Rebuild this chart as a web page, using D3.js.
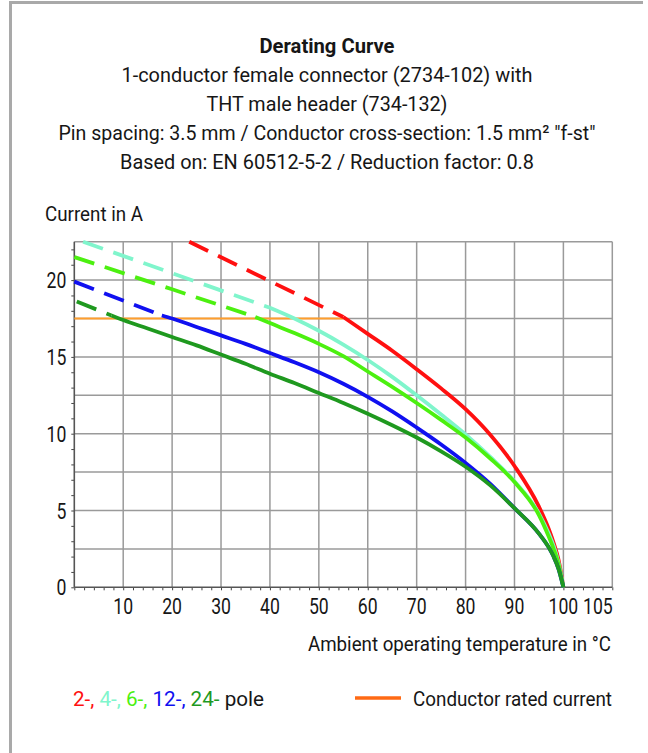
<!DOCTYPE html>
<html><head><meta charset="utf-8">
<script src="https://cdn.jsdelivr.net/npm/d3@7"></script>
<style>
body{margin:0;background:#fff;}
svg text{font-family:Roboto,"Liberation Sans",sans-serif;fill:#161616;}
</style></head><body>
<svg id="c" width="648" height="753"></svg>
<script>
// ---------- data ----------
const titleLines = [
  "Derating Curve",
  "1-conductor female connector (2734-102) with",
  "THT male header (734-132)",
  "Pin spacing: 3.5 mm / Conductor cross-section: 1.5 mm² \"f-st\"",
  "Based on: EN 60512-5-2 / Reduction factor: 0.8"
];
const titleWidths = [135, 411, 241, 537, 414];
const yAxisTitle = "Current in A";
const xAxisTitle = "Ambient operating temperature in °C";
const xTickValues = [10,20,30,40,50,60,70,80,90,100,105];
const yTickValues = [0,5,10,15,20];

const seriesLabels = ["2-,", "4-,", "6-,", "12-,", "24-"];
const seriesColors = ["#ff1010", "#80f5cc", "#4cf010", "#1010f0", "#1f991f"];

// 2-pole
const pole2DashT  = [23.5, 55];
const pole2DashA  = [22.5, 17.6];
const pole2SolidT = [55, 60, 65, 70, 75, 80, 85, 90, 95, 97, 98, 99, 100];
const pole2SolidA = [17.6, 16.5, 15.4, 14.2, 12.95, 11.6, 9.95, 7.9, 5.25, 3.8, 2.9, 1.8, 0];
// 4-pole
const pole4DashT  = [1.8, 20, 40];
const pole4DashA  = [22.5, 20.45, 18.2];
const pole4SolidT = [40, 45, 50, 55, 60, 65, 70, 75, 80, 85, 90, 95, 97, 98, 99, 100];
const pole4SolidA = [18.2, 17.5, 16.7, 15.8, 14.8, 13.7, 12.5, 11.25, 9.95, 8.5, 6.9, 4.8, 3.5, 2.7, 1.6, 0];
// 6-pole
const pole6DashT  = [0, 20, 37];
const pole6DashA  = [21.5, 19.4, 17.6];
const pole6SolidT = [37, 40, 45, 50, 55, 60, 65, 70, 75, 80, 85, 90, 95, 97, 98, 99, 100];
const pole6SolidA = [17.6, 17.2, 16.55, 15.85, 15.05, 14.05, 13.05, 12.0, 10.9, 9.75, 8.4, 6.85, 4.7, 3.3, 2.5, 1.5, 0];
// 12-pole
const pole12DashT  = [0, 17.9];
const pole12DashA  = [19.9, 17.7];
const pole12SolidT = [17.9, 20, 25, 30, 35, 40, 45, 50, 55, 60, 65, 70, 75, 80, 85, 90, 95, 97, 98, 99, 100];
const pole12SolidA = [17.7, 17.5, 16.95, 16.4, 15.85, 15.25, 14.65, 14.0, 13.25, 12.4, 11.45, 10.4, 9.3, 8.1, 6.75, 5.15, 3.5, 2.6, 2.0, 1.2, 0];
// 24-pole
const pole24DashT  = [0.5, 7.6];
const pole24DashA  = [18.6, 17.7];
const pole24SolidT = [7.6, 10, 15, 20, 25, 30, 35, 40, 45, 50, 55, 60, 65, 70, 75, 80, 85, 90, 95, 97, 98, 99, 100];
const pole24SolidA = [17.7, 17.4, 16.85, 16.3, 15.75, 15.15, 14.55, 13.9, 13.3, 12.65, 12.0, 11.3, 10.55, 9.75, 8.85, 7.85, 6.65, 5.15, 3.5, 2.6, 2.0, 1.2, 0];

// conductor rated current
const ratedT = [0, 55];
const ratedA = [17.5, 17.5];
const ratedLabel = "Conductor rated current";
const ratedColorPlot = "#ff9e2c";
const ratedColorLegend = "#ff6a14";

// ---------- chart ----------
const svg = d3.select("#c");
const x = d3.scaleLinear().domain([0,110]).range([74.3, 612.3]);
const y = d3.scaleLinear().domain([0,22.5]).range([587.3, 241.7]);

// frame
svg.append("path").attr("d","M10.5,753V2.5H643").attr("fill","none").attr("stroke","#a9a9a9").attr("stroke-width",3);

// title
svg.append("g").selectAll("text").data(titleLines).join("text")
  .attr("x",327).attr("y",(d,i)=>53+i*29)
  .attr("text-anchor","middle")
  .attr("font-size",(d,i)=>i===0?20:20.5)
  .attr("font-weight",(d,i)=>i===0?"bold":"normal")
  .attr("textLength",(d,i)=>titleWidths[i]).attr("lengthAdjust","spacingAndGlyphs")
  .text(d=>d);

// grid
const g = svg.append("g");
g.selectAll(".vg").data(d3.range(10,111,10)).join("line")
  .attr("x1",d=>x(d)).attr("x2",d=>x(d)).attr("y1",y(0)).attr("y2",y(22.5))
  .attr("stroke","#9a9a9a").attr("stroke-width",1.5);
g.selectAll(".hg").data(d3.range(2.5,22.6,2.5)).join("line")
  .attr("x1",x(0)).attr("x2",x(110)).attr("y1",d=>y(d)).attr("y2",d=>y(d))
  .attr("stroke","#9a9a9a").attr("stroke-width",1.5);

// axes
const yMinor = d3.axisLeft(y).tickValues(d3.range(0,22.6,1)).tickSize(3).tickFormat("");
svg.append("g").attr("transform",`translate(${x(0)},0)`).call(yMinor)
  .call(s=>s.select(".domain").remove())
  .selectAll("line").attr("stroke","#444");
const xMinor = d3.axisBottom(x).tickValues(d3.range(0,110.1,2)).tickSize(3).tickFormat("");
svg.append("g").attr("transform",`translate(0,${y(0)})`).call(xMinor)
  .call(s=>s.select(".domain").remove())
  .selectAll("line").attr("stroke","#444");

svg.append("line").attr("x1",x(0)).attr("x2",x(0)).attr("y1",y(0)).attr("y2",y(22.5)).attr("stroke","#555").attr("stroke-width",1.6);
svg.append("line").attr("x1",x(0)).attr("x2",x(110)).attr("y1",y(0)).attr("y2",y(0)).attr("stroke","#555").attr("stroke-width",1.6);

// tick labels (condensed look via horizontal scale)
const sx = 0.8;
svg.append("g").selectAll("text").data(yTickValues).join("text")
  .attr("x",0).attr("y",0).attr("text-anchor","end").attr("font-size",22)
  .attr("transform",d=>`translate(${x(0)-8},${y(d)+8}) scale(${sx},1)`).text(d=>d);
svg.append("g").selectAll("text").data(xTickValues).join("text")
  .attr("x",0).attr("y",0).attr("text-anchor","middle").attr("font-size",22)
  .attr("transform",d=>`translate(${x(d)+(d===105?10:0)},${y(0)+26.5}) scale(${sx},1)`).text(d=>d);

svg.append("text").attr("x",45).attr("y",221).attr("font-size",19.5)
  .attr("textLength",98).attr("lengthAdjust","spacingAndGlyphs").text(yAxisTitle);
svg.append("text").attr("x",308).attr("y",651).attr("font-size",19.5)
  .attr("textLength",303).attr("lengthAdjust","spacingAndGlyphs").text(xAxisTitle);

// rated current line
const line = d3.line().x(d=>x(d[0])).y(d=>y(d[1]));
const curve = d3.line().x(d=>x(d[0])).y(d=>y(d[1])).curve(d3.curveMonotoneX);
svg.append("path").attr("d",line(d3.zip(ratedT,ratedA))).attr("fill","none")
  .attr("stroke",ratedColorPlot).attr("stroke-width",2.2);

const series = [
  [pole2DashT,pole2DashA,pole2SolidT,pole2SolidA],
  [pole4DashT,pole4DashA,pole4SolidT,pole4SolidA],
  [pole6DashT,pole6DashA,pole6SolidT,pole6SolidA],
  [pole12DashT,pole12DashA,pole12SolidT,pole12SolidA],
  [pole24DashT,pole24DashA,pole24SolidT,pole24SolidA]
];
series.forEach((s,i)=>{
  svg.append("path").attr("d",curve(d3.zip(s[0],s[1]))).attr("fill","none")
    .attr("stroke",seriesColors[i]).attr("stroke-width",3.8)
    .attr("stroke-dasharray","21,11").attr("stroke-linecap","butt");
  svg.append("path").attr("d",curve(d3.zip(s[2],s[3]))).attr("fill","none")
    .attr("stroke",seriesColors[i]).attr("stroke-width",3.8).attr("stroke-linejoin","round");
});

// legend
const lt = svg.append("text").attr("x",73).attr("y",706).attr("font-size",20)
  .attr("textLength",191).attr("lengthAdjust","spacingAndGlyphs");
seriesLabels.forEach((l,i)=>{
  lt.append("tspan").style("fill",seriesColors[i]).text(l+" ");
});
lt.append("tspan").text("pole");
svg.append("line").attr("x1",355).attr("x2",401).attr("y1",698).attr("y2",698)
  .attr("stroke",ratedColorLegend).attr("stroke-width",3.5);
svg.append("text").attr("x",413).attr("y",706).attr("font-size",20)
  .attr("textLength",199).attr("lengthAdjust","spacingAndGlyphs").text(ratedLabel);
</script>
</body></html>
